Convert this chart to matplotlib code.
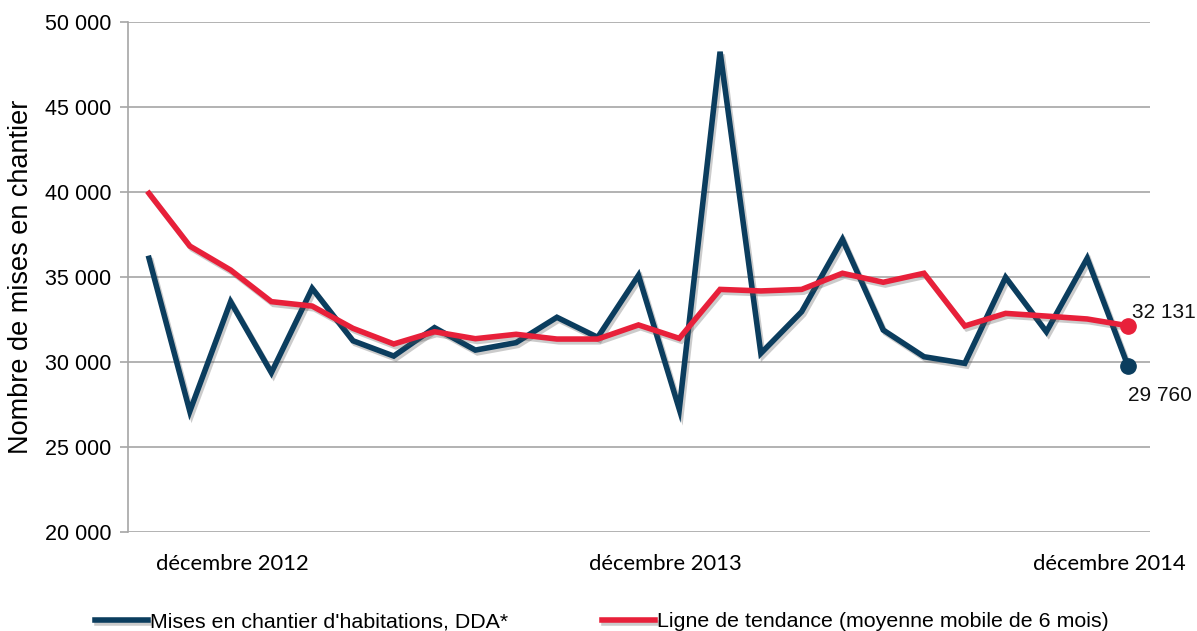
import matplotlib
matplotlib.use("Agg")
import matplotlib.pyplot as plt
import matplotlib.patheffects as pe
from matplotlib.transforms import ScaledTranslation
import numpy as np

plt.rcParams['font.family'] = ['Liberation Sans', 'DejaVu Sans']

# Data (Dec 2012 .. Dec 2014, monthly)
mises = [36100, 27100, 33550, 29370, 34330, 31250, 30350, 32020, 30700, 31140,
         32630, 31450, 35100, 27220, 48250, 30510, 32960, 37220, 31880, 30310,
         29920, 34980, 31780, 36100, 29760]
tendance = [39920, 36820, 35410, 33550, 33290, 31980, 31060, 31780, 31370, 31630,
            31350, 31350, 32180, 31390, 34270, 34180, 34270, 35220, 34690, 35220,
            32120, 32860, 32700, 32530, 32131]
x_labels = ["décembre 2012", "décembre 2013", "décembre 2014"]
x_label_idx = [0, 12, 24]
yticks = [20000, 25000, 30000, 35000, 40000, 45000, 50000]
end_labels = ["32 131", "29 760"]
series_names = ["Mises en chantier d'habitations, DDA*",
                "Ligne de tendance (moyenne mobile de 6 mois)"]

BLUE = "#0B3D5E"
RED = "#E8203A"
GRID = "#A6A6A6"

fig = plt.figure(figsize=(11.97, 6.31), dpi=100)
ax = fig.add_axes([128/1197, 1-532/631, (1150-128)/1197, (532-22)/631])

x = np.arange(len(mises))
shadow = [pe.SimpleLineShadow(offset=(1.5, -2), shadow_color='#555555', alpha=0.3), pe.Normal()]
l1, = ax.plot(x, mises, color=BLUE, lw=4, solid_joinstyle='miter', path_effects=shadow, zorder=3)
l2, = ax.plot(x, tendance, color=RED, lw=4, solid_joinstyle='miter', path_effects=shadow, zorder=4)
ax.plot(x[-1], mises[-1], 'o', color=BLUE, ms=11, zorder=5)
ax.plot(x[-1], tendance[-1], 'o', color=RED, ms=11, zorder=5)

ax.annotate(end_labels[0], (x[-1], tendance[-1]), xytext=(3, 3), textcoords='offset points',
            fontsize=15, ha='left', va='bottom', color='#111111')
ax.annotate(end_labels[1], (x[-1], mises[-1]), xytext=(0, -14), textcoords='offset points',
            fontsize=15, ha='left', va='top', color='#111111')

ax.set_xlim(-0.515, 24.54)
ax.set_ylim(20000, 50000)
ax.set_yticks(yticks)
ax.set_yticklabels([f"{v:,}".replace(",", " ") for v in yticks], fontsize=15.5)
ax.yaxis.grid(True, color=GRID, lw=1.2)
ax.set_axisbelow(True)
for s in ['top', 'right', 'bottom']:
    ax.spines[s].set_visible(False)
ax.spines['left'].set_color(GRID)
ax.spines['left'].set_linewidth(1.2)
ax.tick_params(axis='y', length=6, color=GRID, width=1.2, pad=6)

ax.set_xticks(x_label_idx)
ax.set_xticklabels(x_labels, family=['Lato', 'DejaVu Sans'], fontsize=15.8)
ax.tick_params(axis='x', length=0, pad=16)
offsets = [83, 27, -19]
for lab, dx in zip(ax.get_xticklabels(), offsets):
    lab.set_transform(lab.get_transform() + ScaledTranslation(dx/100, 0, fig.dpi_scale_trans))

ax.set_ylabel("Nombre de mises en chantier", fontsize=19.5)
ax.yaxis.set_label_coords(-0.092, 0.5)

fig.legend([l1, l2], series_names, loc='lower left', bbox_to_anchor=(86/1197, -0.014),
           ncol=2, frameon=False, fontsize=15.4, handlelength=2.5, handletextpad=0.08,
           columnspacing=4.4, borderaxespad=0)

fig.savefig("out.png", dpi=100)
